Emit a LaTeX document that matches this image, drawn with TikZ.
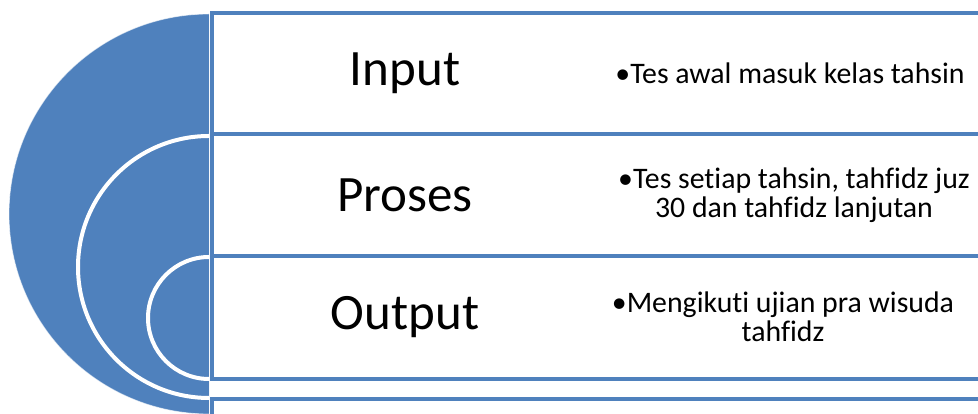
\documentclass[tikz,border=0pt]{standalone}
\usepackage{fontspec}
\setmainfont{Carlito}[Ligatures=NoCommon]
\definecolor{accent}{HTML}{4F81BD}
\tikzset{
  rowbox/.style={draw=accent, line width=4pt, fill=white},
  ring/.style={draw=white, line width=4pt},
  stage/.style={font=\fontsize{51}{60}\selectfont, text=black, inner sep=0pt},
  detail/.style={font=\fontsize{29.8}{29.5}\selectfont, text=black, align=center, inner sep=0pt},
}
\begin{document}
\begin{tikzpicture}[x=1pt,y=1pt]
  \useasboundingbox (0,0) rectangle (978,414);
  \clip (0,0) rectangle (978,414);

  % blue half disc behind the rows
  \fill[accent] (209,400) arc[start angle=90, end angle=270, radius=200] -- cycle;
  \draw[white, opacity=0.6, line width=0.8pt] (209,400) arc[start angle=90, end angle=270, radius=200];

  % white nested arcs
  \draw[ring] (209,278) arc[start angle=90, end angle=270, radius=131];
  \draw[ring] (209,157) arc[start angle=90, end angle=270, radius=61];

  % rows
  \draw[rowbox] (211.5,14.5) rectangle (1000,-20);
  \draw[rowbox] (211.5,158) rectangle (1000,35);
  \draw[rowbox] (211.5,280) rectangle (1000,158);
  \draw[rowbox] (211.5,400.5) rectangle (1000,280);
  \draw[white, opacity=0.6, line width=0.8pt] (209,414) -- (209,0);

  % stage names
  \node[stage] (input)  at (405,341) {Input};
  \node[stage] (proses) at (405,219) {Proses};
  \node[stage] (output) at (405,97)  {Output};

  % stage details
  \node[detail] (d1) at (790,341) {•Tes awal masuk kelas tahsin};
  \node[detail] (d2) at (794,219) {•Tes setiap tahsin, tahfidz juz\\30 dan tahfidz lanjutan};
  \node[detail] (d3) at (783,97)  {•Mengikuti ujian pra wisuda\\tahfidz};
\end{tikzpicture}
\end{document}
